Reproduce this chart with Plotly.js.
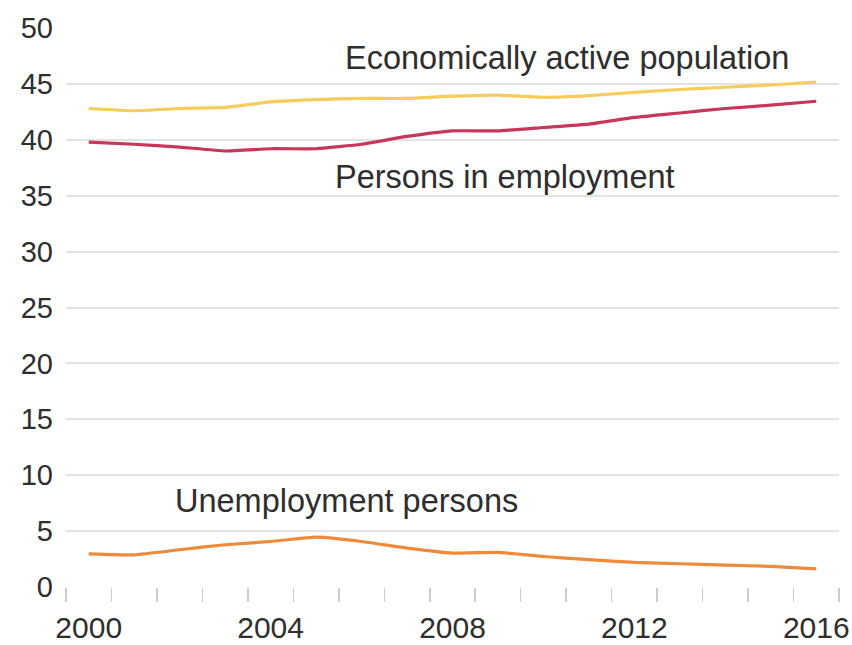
<!DOCTYPE html>
<html>
<head>
<meta charset="utf-8">
<script src="https://cdn.plot.ly/plotly-3.0.1.min.js"></script>
<style>
  html, body { margin: 0; padding: 0; background: #ffffff; }
  #chart { width: 852px; height: 645px; }
</style>
</head>
<body>
<div id="chart"></div>
<script>
// Data (millions of persons)
const years = [2000, 2001, 2002, 2003, 2004, 2005, 2006, 2007, 2008, 2009, 2010, 2011, 2012, 2013, 2014, 2015, 2016];
const activePopulation = [42.8, 42.6, 42.8, 42.9, 43.4, 43.6, 43.7, 43.7, 43.9, 44.0, 43.8, 43.95, 44.25, 44.5, 44.7, 44.9, 45.15];
const employed = [39.8, 39.6, 39.35, 39.0, 39.2, 39.2, 39.6, 40.3, 40.8, 40.8, 41.1, 41.4, 42.0, 42.4, 42.8, 43.1, 43.45];
const unemployed = [2.97, 2.88, 3.33, 3.78, 4.07, 4.46, 4.07, 3.48, 3.03, 3.1, 2.73, 2.44, 2.2, 2.08, 1.96, 1.84, 1.63];
const xTickLabels = ['2000', '2004', '2008', '2012', '2016'];
const xTickVals = [2000, 2004, 2008, 2012, 2016];
const yTickVals = [0, 5, 10, 15, 20, 25, 30, 35, 40, 45, 50];
const seriesNames = ['Economically active population', 'Persons in employment', 'Unemployment persons'];

const colors = ['#f6cd5c', '#c8375a', '#ee8a3b'];
const font = 'Liberation Sans, Arial, sans-serif';
const textColor = '#2e2e2e';

const minorTicks = years.map(y => y - 0.5).concat([years[years.length - 1] + 0.5]);

const traces = [activePopulation, employed, unemployed].map((vals, i) => ({
  x: years,
  y: vals,
  type: 'scatter',
  mode: 'lines',
  name: seriesNames[i],
  line: { color: colors[i], width: 3.2, shape: 'spline', smoothing: 0.4 },
  hoverinfo: 'x+y'
}));

const layout = {
  width: 852,
  height: 645,
  margin: { l: 66, r: 13, t: 28, b: 58 },
  paper_bgcolor: '#ffffff',
  plot_bgcolor: '#ffffff',
  showlegend: false,
  font: { family: font, color: textColor },
  xaxis: {
    range: [1999.5, 2016.5],
    tickmode: 'array',
    tickvals: xTickVals,
    ticktext: xTickLabels,
    ticks: 'outside',
    ticklen: 14,
    tickcolor: 'rgba(0,0,0,0)',
    tickfont: { family: font, size: 30, color: textColor },
    showgrid: false,
    zeroline: false,
    showline: false,
    minor: {
      tickmode: 'array',
      tickvals: minorTicks,
      ticks: 'outside',
      ticklen: 14,
      tickwidth: 1.5,
      tickcolor: '#cccccc',
      showgrid: false
    }
  },
  yaxis: {
    range: [0, 50],
    tickmode: 'array',
    tickvals: yTickVals,
    ticktext: yTickVals.map(String),
    ticks: '',
    ticklabelstandoff: 12,
    tickfont: { family: font, size: 29, color: textColor },
    showgrid: true,
    gridcolor: '#e3e3e3',
    gridwidth: 2,
    zeroline: false,
    showline: false
  },
  annotations: [
    { text: seriesNames[0], x: 2005.59, y: 47.3, xref: 'x', yref: 'y', xanchor: 'left', yanchor: 'middle', showarrow: false, font: { family: font, size: 32.5, color: textColor } },
    { text: seriesNames[1], x: 2005.37, y: 36.7, xref: 'x', yref: 'y', xanchor: 'left', yanchor: 'middle', showarrow: false, font: { family: font, size: 32.5, color: textColor } },
    { text: seriesNames[2], x: 2001.85, y: 7.7, xref: 'x', yref: 'y', xanchor: 'left', yanchor: 'middle', showarrow: false, font: { family: font, size: 32.5, color: textColor } }
  ]
};

Plotly.newPlot('chart', traces, layout, { displayModeBar: false, staticPlot: true });
</script>
</body>
</html>
